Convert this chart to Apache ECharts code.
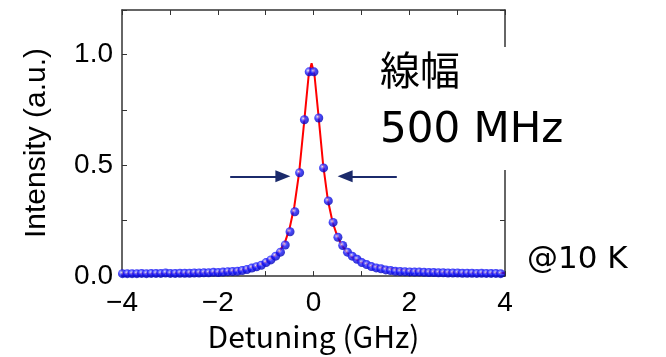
<!DOCTYPE html>
<html><head><meta charset="utf-8">
<script src="https://cdn.jsdelivr.net/npm/echarts@6/dist/echarts.min.js"></script>
<style>html,body{margin:0;padding:0;background:#fff}#c{width:666px;height:357px}</style>
</head><body><div id="c"></div>
<script>
// measured points: detuning (GHz) and intensity (a.u.)
const detuning = [
 -3.99,-3.89,-3.79,-3.69,-3.59,-3.49,-3.39,-3.29,-3.19,-3.09,
 -2.99,-2.89,-2.79,-2.69,-2.59,-2.49,-2.39,-2.29,-2.19,-2.09,
 -1.99,-1.89,-1.79,-1.69,-1.59,-1.49,-1.39,-1.29,-1.19,-1.09,
 -0.99,-0.89,-0.79,-0.69,-0.59,-0.49,-0.39,-0.29,-0.19,-0.09,
 0.01,0.11,0.21,0.31,0.41,0.51,0.61,0.71,0.81,0.91,
 1.01,1.11,1.21,1.31,1.41,1.51,1.61,1.71,1.81,1.91,
 2.01,2.11,2.21,2.31,2.41,2.51,2.61,2.71,2.81,2.91,
 3.01,3.11,3.21,3.31,3.41,3.51,3.61,3.71,3.81,3.91
];
const intensity = [
 0.011,0.011,0.011,0.011,0.012,0.011,0.012,0.012,0.012,0.014,
 0.012,0.012,0.013,0.013,0.013,0.014,0.014,0.015,0.015,0.017,
 0.016,0.018,0.020,0.021,0.022,0.025,0.030,0.036,0.042,0.049,
 0.061,0.073,0.090,0.108,0.140,0.200,0.290,0.466,0.705,0.921,
 0.921,0.713,0.488,0.339,0.242,0.175,0.138,0.108,0.090,0.076,
 0.061,0.052,0.043,0.037,0.033,0.028,0.025,0.022,0.021,0.020,
 0.019,0.018,0.018,0.017,0.016,0.016,0.015,0.015,0.014,0.014,
 0.014,0.013,0.013,0.013,0.012,0.013,0.012,0.012,0.012,0.011
];
// fitted curve
const fitX = [-4,-3,-2,-1.5,-1.2,-1.0,-0.8,-0.7,-0.6,-0.5,-0.4,-0.3,-0.2,-0.1,-0.04,0.02,0.1,0.2,0.3,0.4,0.5,0.6,0.7,0.8,1.0,1.2,1.5,2,3,4];
const fitY = [0.012,0.013,0.018,0.028,0.045,0.063,0.093,0.115,0.15,0.215,0.315,0.467,0.684,0.908,0.96,0.908,0.733,0.505,0.343,0.242,0.178,0.136,0.107,0.087,0.062,0.047,0.034,0.024,0.016,0.014];
const xLabelValues = [-4,-2,0,2,4];
const yLabelValues = [0,0.5,1.0];
const arrowLeft = [[-1.74,0.45],[-0.64,0.45]];
const arrowRight = [[1.74,0.45],[0.66,0.45]];
const titleX = 'Detuning (GHz)';
const titleY = 'Intensity (a.u.)';
const noteLines = ['線幅','500 MHz'];
const noteTemp = '@10 K';

const chart = echarts.init(document.getElementById('c'));
const tickFont = '"Liberation Sans", Arial, sans-serif';
const axisCol = '#333';
function xFmt(v){ return xLabelValues.some(t=>Math.abs(t-v)<1e-6) ? String(v).replace('-','\u2212') : ''; }
function yFmt(v){ return yLabelValues.some(t=>Math.abs(t-v)<1e-6) ? v.toFixed(1) : ''; }
const baseX = {
  type:'value', min:-4, max:4, interval:1,
  axisLine:{show:true, onZero:false, lineStyle:{color:axisCol, width:1.5}},
  axisTick:{show:true, inside:true, length:5, lineStyle:{color:axisCol}},
  splitLine:{show:false}
};
const baseY = {
  type:'value', min:0, max:1.2, interval:0.25,
  axisLine:{show:true, onZero:false, lineStyle:{color:axisCol, width:1.5}},
  axisTick:{show:true, inside:true, length:5, lineStyle:{color:axisCol}},
  splitLine:{show:false}
};
const sphere = {type:'radial', x:0.38, y:0.36, r:0.66, colorStops:[
  {offset:0, color:'#ffffff'},{offset:0.18, color:'#8c8cff'},{offset:0.45, color:'#1a1aff'},{offset:1, color:'#0000b4'}]};
const pts = detuning.map((x,i)=>[x,intensity[i]]);
const fit = fitX.map((x,i)=>[x,fitY[i]]);
chart.setOption({
  animation:false,
  backgroundColor:'#fff',
  grid:{left:122, right:161, top:10, bottom:79},
  xAxis:[
    Object.assign({}, baseX, {position:'bottom',
      axisLabel:{show:true, formatter:xFmt, margin:13, color:'#000', fontSize:28, fontFamily:tickFont},
      name:titleX, nameLocation:'middle', nameGap:44,
      nameTextStyle:{fontSize:30, color:'#000', fontFamily:'"Noto Sans CJK JP", sans-serif'}}),
    Object.assign({}, baseX, {position:'top', axisLabel:{show:false}})
  ],
  yAxis:[
    Object.assign({}, baseY, {position:'left',
      axisLabel:{show:true, formatter:yFmt, margin:9, color:'#000', fontSize:28, fontFamily:tickFont},
      name:titleY, nameLocation:'middle', nameGap:70, nameRotate:90,
      nameTextStyle:{fontSize:30, color:'#000', fontFamily:tickFont}}),
    Object.assign({}, baseY, {position:'right', axisLabel:{show:false}})
  ],
  series:[
    {type:'line', data:fit, showSymbol:false, smooth:false, z:2,
     lineStyle:{color:'#ff0000', width:2}},
    {type:'scatter', data:pts, symbolSize:9, z:3, clip:false,
     itemStyle:{color:sphere}},
    {type:'line', data:[], z:4,
     markLine:{silent:true, symbol:['none','triangle'], symbolSize:[12,15], label:{show:false},
       lineStyle:{color:'#1b2a6b', width:2, type:'solid'},
       data:[ [{coord:arrowLeft[0]},{coord:arrowLeft[1]}], [{coord:arrowRight[0]},{coord:arrowRight[1]}] ]}}
  ],
  graphic:[
    {type:'rect', left:364, top:47, shape:{width:220, height:123}, style:{fill:'#fff'}, z:100},
    {type:'text', left:380, top:55, z:101, style:{text:noteLines[0], fill:'#000', font:'40px "DejaVu Sans", "Noto Sans CJK JP", sans-serif'}},
    {type:'text', left:380, top:110, z:101, style:{text:noteLines[1], fill:'#000', font:'42px "DejaVu Sans", sans-serif'}},
    {type:'text', left:527, top:244, z:101, style:{text:noteTemp, fill:'#000', font:'31px "DejaVu Sans", sans-serif'}}
  ]
});
</script></body></html>
